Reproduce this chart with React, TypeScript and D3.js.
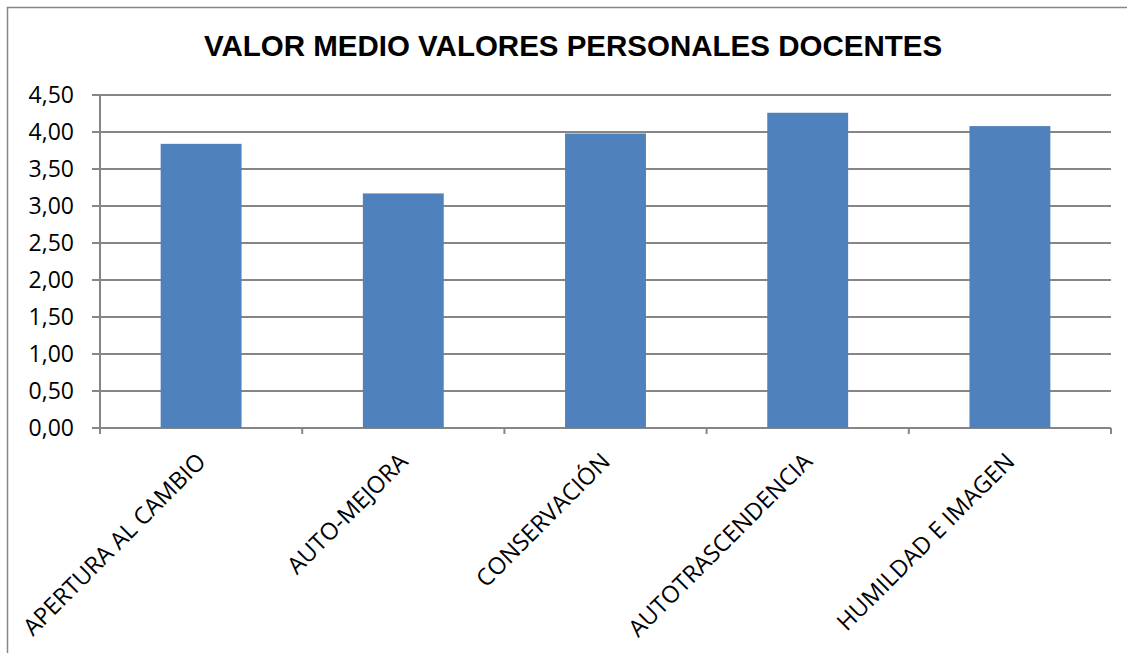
import React from 'react'
import * as d3 from 'd3'

const categories = [
  'APERTURA AL CAMBIO',
  'AUTO-MEJORA',
  'CONSERVACIÓN',
  'AUTOTRASCENDENCIA',
  'HUMILDAD E IMAGEN'
]
const values = [3.84, 3.17, 3.98, 4.26, 4.08]
const yTicks = [0, 0.5, 1, 1.5, 2, 2.5, 3, 3.5, 4, 4.5]
const title = 'VALOR MEDIO VALORES PERSONALES DOCENTES'

function App() {
  const width = 1127
  const height = 653
  const left = 100
  const right = 1111
  const top = 95
  const bottom = 428

  // scales
  const x = d3
    .scaleBand()
    .domain(categories)
    .range([left, right])
    .paddingInner(0.6)
    .paddingOuter(0.3)

  const y = d3
    .scaleLinear()
    .domain([0, 4.5])
    .range([bottom, top])

  const fmt = (v: number) => d3.format('.2f')(v).replace('.', ',')
  const step = x.step()
  const xTicks = d3.range(categories.length + 1).map(i => left + i * step)
  const grey = '#868686'

  return (
    <svg
      width={width}
      height={height}
      style={{ position: 'absolute', left: 0, top: 0, background: '#fff' }}
    >
      <rect x={7.5} y={7.5} width={1130} height={660} fill="#fff" stroke={grey} strokeWidth={1.5} />
      <text
        x={573}
        y={56}
        textAnchor="middle"
        fontFamily="'Liberation Sans', Arial, sans-serif"
        fontWeight="bold"
        fontSize={29.5}
        fill="#000"
      >
        {title}
      </text>

      {/* gridlines + y ticks */}
      {yTicks.map(t => (
        <g key={t}>
          <line x1={left - 8} x2={right} y1={y(t)} y2={y(t)} stroke={grey} strokeWidth={2} />
          <text
            x={74}
            y={y(t)}
            dy="0.35em"
            textAnchor="end"
            fontFamily="'Open Sans', sans-serif"
            fontSize={23}
            fill="#000"
          >
            {fmt(t)}
          </text>
        </g>
      ))}

      {/* bars */}
      {categories.map((c, i) => (
        <rect
          key={c}
          x={x(c)}
          y={y(values[i])}
          width={x.bandwidth()}
          height={y(0) - y(values[i])}
          fill="#4F81BD"
        />
      ))}

      {/* axes */}
      <line x1={left} x2={left} y1={top} y2={bottom + 6} stroke={grey} strokeWidth={2} />
      {xTicks.map((t, i) => (
        <line key={i} x1={t} x2={t} y1={bottom} y2={bottom + 6} stroke={grey} strokeWidth={2} />
      ))}

      {/* category labels */}
      {categories.map(c => {
        const cx = (x(c) as number) + x.bandwidth() / 2
        return (
          <text
            key={c}
            transform={`translate(${cx + 6},${bottom + 35}) rotate(-45)`}
            textAnchor="end"
            fontFamily="'Open Sans', sans-serif"
            fontSize={23.5}
            fill="#000"
          >
            {c}
          </text>
        )
      })}
    </svg>
  )
}

export default App
